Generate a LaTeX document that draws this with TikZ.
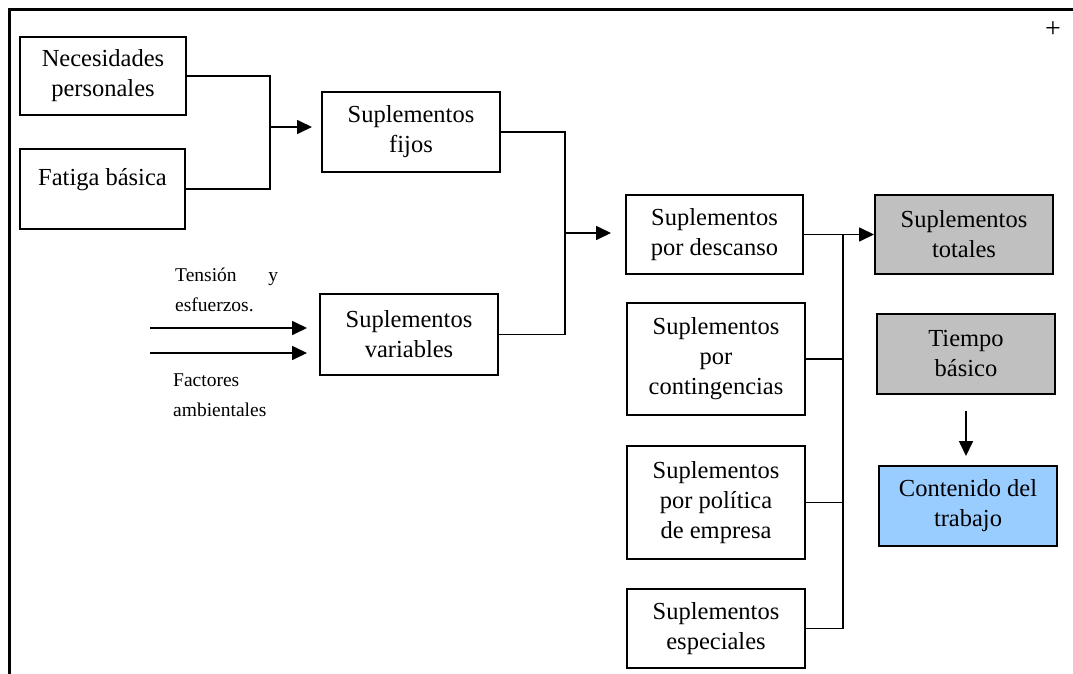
\documentclass[tikz,border=0pt]{standalone}
\usepackage{fontspec}
\setmainfont{Liberation Serif}
\usetikzlibrary{arrows.meta}
\definecolor{boxgray}{RGB}{192,192,192}
\definecolor{boxblue}{RGB}{153,204,255}

\begin{document}
\begin{tikzpicture}[x=1pt, y=-1pt,
    box/.style={draw, rectangle, line width=2pt, minimum width=178pt, minimum height=80pt, align=center, inner sep=2pt, font=\fontsize{24.5}{30}\selectfont},
    link/.style={line width=1.7pt},
    arr/.style={-{Triangle[length=15pt, width=14pt]}, line width=1.7pt},
    lbl/.style={align=left, inner sep=0pt, anchor=north west, font=\fontsize{19.5}{30}\selectfont}]
    \useasboundingbox (0,0) rectangle (1073,674);
    \draw[line width=3pt] (9,674) -- (9,10) -- (1073,10);
    \node[font=\fontsize{28}{28}\selectfont] (plus) at (1053,30) {+};

    \node[box, minimum width=166pt, minimum height=78pt] (nec) at (103,76) {Necesidades\\personales};
    \node[box, minimum width=165pt] (fat) at (102.5,189) {Fatiga básica\\[-14pt]\strut};
    \node[box] (fij) at (411,132) {Suplementos\\fijos};
    \node[box, minimum height=81pt] (var) at (409,334.5) {Suplementos\\variables};
    \node[box, minimum width=177pt, minimum height=79pt] (des) at (714.5,234.5) {Suplementos\\por descanso};
    \node[box, minimum height=112pt] (con) at (716,359) {Suplementos\\por\\contingencias};
    \node[box, minimum height=113pt] (pol) at (716,502.5) {Suplementos\\por política\\de empresa};
    \node[box, minimum height=79pt] (esp) at (716,628.5) {Suplementos\\especiales};
    \node[box, fill=boxgray, minimum height=79pt] (tot) at (964,234.5) {Suplementos\\totales};
    \node[box, fill=boxgray] (tie) at (966,354) {Tiempo\\básico};
    \node[box, fill=boxblue] (cont) at (968,506) {Contenido del\\trabajo};

    \node[lbl, text width=103pt] (tenlbl) at (175,268) {Tensión\hfill y\\esfuerzos.};
    \node[lbl] (faclbl) at (173,374) {Factores\\ambientales};

    \coordinate (jfij) at (270,127);
    \draw[link] (nec.east) -| (jfij) |- (fat.east);
    \draw[arr, shorten >=9pt] (jfij) -- (jfij -| fij.west);

    \coordinate (jsup) at (565,233);
    \draw[link] (fij.east) -| (jsup) |- (var.east);
    \draw[arr, shorten >=14pt] (jsup) -- (jsup -| des.west);

    \coordinate (tension) at (150,328);
    \coordinate (factores) at (150,353);
    \draw[arr, shorten >=12pt] (tension) -- (tension -| var.west);
    \draw[arr, shorten >=12pt] (factores) -- (factores -| var.west);

    \coordinate (jtot) at (843,234.5);
    \draw[arr] (des.east) -- (tot.west);
    \draw[link] (jtot) |- (esp.east);
    \draw[link] (con.east) -- (con.east -| jtot);
    \draw[link] (pol.east) -- (pol.east -| jtot);

    \draw[arr, shorten <=16pt, shorten >=9pt] (tie.south) -- (tie.south |- cont.north);
\end{tikzpicture}
\end{document}
